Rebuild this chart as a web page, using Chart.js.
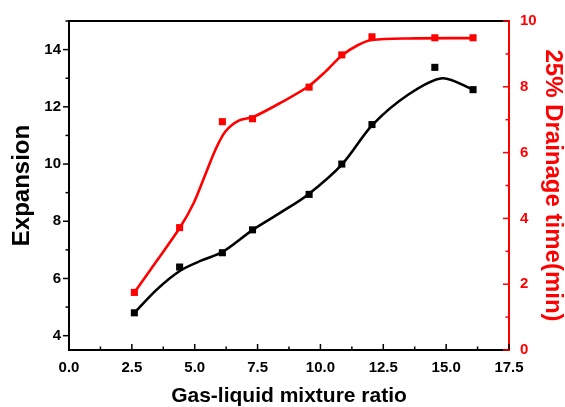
<!DOCTYPE html>
<html>
<head>
<meta charset="utf-8">
<script src="https://cdn.jsdelivr.net/npm/chart.js@4/dist/chart.umd.min.js"></script>
<style>
  body { margin: 0; background: #fff; }
  canvas { display: block; }
</style>
</head>
<body>
<canvas id="foamChart" width="565" height="407"></canvas>
<script>
// measured points
const ratio = [2.6, 4.4, 6.1, 7.3, 9.55, 10.85, 12.05, 14.55, 16.07];
const expansion = [4.8, 6.4, 6.9, 7.7, 8.94, 10.0, 11.38, 13.38, 12.6];
const drainage = [1.75, 3.72, 6.94, 7.03, 7.99, 8.97, 9.52, 9.49, 9.49];

// fitted curves
const expFitX = [2.6, 3.5, 4.42, 5.3, 6.11, 7.31, 8.41, 9.5, 10.87, 12.06, 13.5, 14.85, 16.07];
const expFitY = [4.8, 5.62, 6.27, 6.64, 6.93, 7.7, 8.3, 8.93, 10.0, 11.36, 12.43, 13.0, 12.6];
const drainFitX = [2.6, 3.5, 4.42, 4.96, 5.42, 5.82, 6.22, 6.75, 7.35, 8.5, 9.5, 10.2, 10.85, 11.5, 12.05, 13.5, 16.07];
const drainFitY = [1.75, 2.72, 3.73, 4.47, 5.33, 6.08, 6.64, 6.97, 7.09, 7.55, 8.0, 8.46, 8.95, 9.27, 9.42, 9.47, 9.48];

// tick labels
const xTicks = [0, 2.5, 5, 7.5, 10, 12.5, 15, 17.5];
const leftTicks = [4, 6, 8, 10, 12, 14];
const rightTicks = [0, 2, 4, 6, 8, 10];

const RED = '#ff0000';
const FONT = "'Liberation Sans', Arial, sans-serif";

const pts = (xs, ys) => xs.map((x, i) => ({ x: x, y: ys[i] }));

// minor/major tick marks and the top frame line
const frameTicks = {
    id: 'frameTicks',
    afterDraw(chart) {
        const { ctx, chartArea: a, scales } = chart;
        ctx.save();
        ctx.lineWidth = 2;
        ctx.strokeStyle = '#000';
        ctx.beginPath();
        ctx.moveTo(a.left - 1, a.top);
        ctx.lineTo(a.right, a.top);
        ctx.stroke();

        const mark = (scale, vals, minorStep, len, minorLen, draw) => {
            vals.forEach(v => draw(scale.getPixelForValue(v), len));
            for (let i = 0; i < vals.length; i++) {
                const m = vals[i] + minorStep;
                if (m <= scale.max + 1e-9) draw(scale.getPixelForValue(m), minorLen);
            }
        };
        ctx.lineWidth = 1.5;
        // x ticks point inward
        ctx.strokeStyle = '#000';
        mark(scales.x, xTicks, 1.25, 6, 3.5, (p, l) => {
            ctx.beginPath(); ctx.moveTo(p, a.bottom); ctx.lineTo(p, a.bottom - l); ctx.stroke();
        });
        // left ticks point outward
        mark(scales.y, leftTicks, 1, 6, 3.5, (p, l) => {
            ctx.beginPath(); ctx.moveTo(a.left, p); ctx.lineTo(a.left - l, p); ctx.stroke();
        });
        // right ticks point inward
        ctx.strokeStyle = RED;
        mark(scales.y1, rightTicks, 1, 6, 3.5, (p, l) => {
            ctx.beginPath(); ctx.moveTo(a.right, p); ctx.lineTo(a.right - l, p); ctx.stroke();
        });
        ctx.restore();
    }
};

const setTicks = list => scale => { scale.ticks = list.map(v => ({ value: v })); };

new Chart(document.getElementById('foamChart'), {
    type: 'scatter',
    data: {
        datasets: [
            {
                type: 'line',
                data: pts(expFitX, expFitY),
                borderColor: '#000',
                borderWidth: 2.6,
                pointRadius: 0,
                tension: 0.3,
                yAxisID: 'y'
            },
            {
                data: pts(ratio, expansion),
                backgroundColor: '#000',
                borderColor: '#000',
                pointStyle: 'rect',
                pointRadius: 5,
                borderWidth: 0,
                yAxisID: 'y'
            },
            {
                type: 'line',
                data: pts(drainFitX, drainFitY),
                borderColor: RED,
                borderWidth: 2.6,
                pointRadius: 0,
                tension: 0.3,
                yAxisID: 'y1'
            },
            {
                data: pts(ratio, drainage),
                backgroundColor: RED,
                borderColor: RED,
                pointStyle: 'rect',
                pointRadius: 5,
                borderWidth: 0,
                yAxisID: 'y1'
            }
        ]
    },
    options: {
        responsive: false,
        animation: false,
        layout: { padding: { top: 21, left: 0, right: 0, bottom: 0 } },
        plugins: {
            legend: { display: false },
            tooltip: { enabled: false }
        },
        scales: {
            x: {
                type: 'linear',
                position: 'bottom',
                min: 0,
                max: 17.5,
                afterBuildTicks: setTicks(xTicks),
                afterFit: s => { s.height = 57; },
                grid: { display: false, drawTicks: false },
                border: { color: '#000', width: 2 },
                ticks: {
                    color: '#000',
                    padding: 9,
                    maxRotation: 0,
                    font: { family: FONT, size: 15, weight: 'bold' },
                    callback: v => Number(v).toFixed(1)
                },
                title: {
                    display: true,
                    text: 'Gas-liquid mixture ratio',
                    color: '#000',
                    padding: { top: 0, bottom: 0 },
                    font: { family: FONT, size: 21, weight: 'bold', lineHeight: 1 }
                }
            },
            y: {
                type: 'linear',
                position: 'left',
                min: 3.5,
                max: 15,
                afterBuildTicks: setTicks(leftTicks),
                afterFit: s => { s.width = 69; },
                grid: { display: false, drawTicks: false },
                border: { color: '#000', width: 2 },
                ticks: {
                    color: '#000',
                    padding: 8,
                    font: { family: FONT, size: 15, weight: 'bold' }
                },
                title: {
                    display: true,
                    text: 'Expansion',
                    color: '#000',
                    padding: { top: 10, bottom: 0 },
                    font: { family: FONT, size: 24, weight: 'bold', lineHeight: 1 }
                }
            },
            y1: {
                type: 'linear',
                position: 'right',
                min: 0,
                max: 10,
                afterBuildTicks: setTicks(rightTicks),
                afterFit: s => { s.width = 56; },
                grid: { display: false, drawTicks: false },
                border: { color: RED, width: 2 },
                ticks: {
                    color: RED,
                    padding: 11,
                    font: { family: FONT, size: 15, weight: 'bold' }
                },
                title: {
                    display: true,
                    text: '25% Drainage time(min)',
                    color: RED,
                    padding: { top: 0, bottom: 0 },
                    font: { family: FONT, size: 24, weight: 'bold', lineHeight: 1 }
                }
            }
        }
    },
    plugins: [frameTicks]
});
</script>
</body>
</html>
